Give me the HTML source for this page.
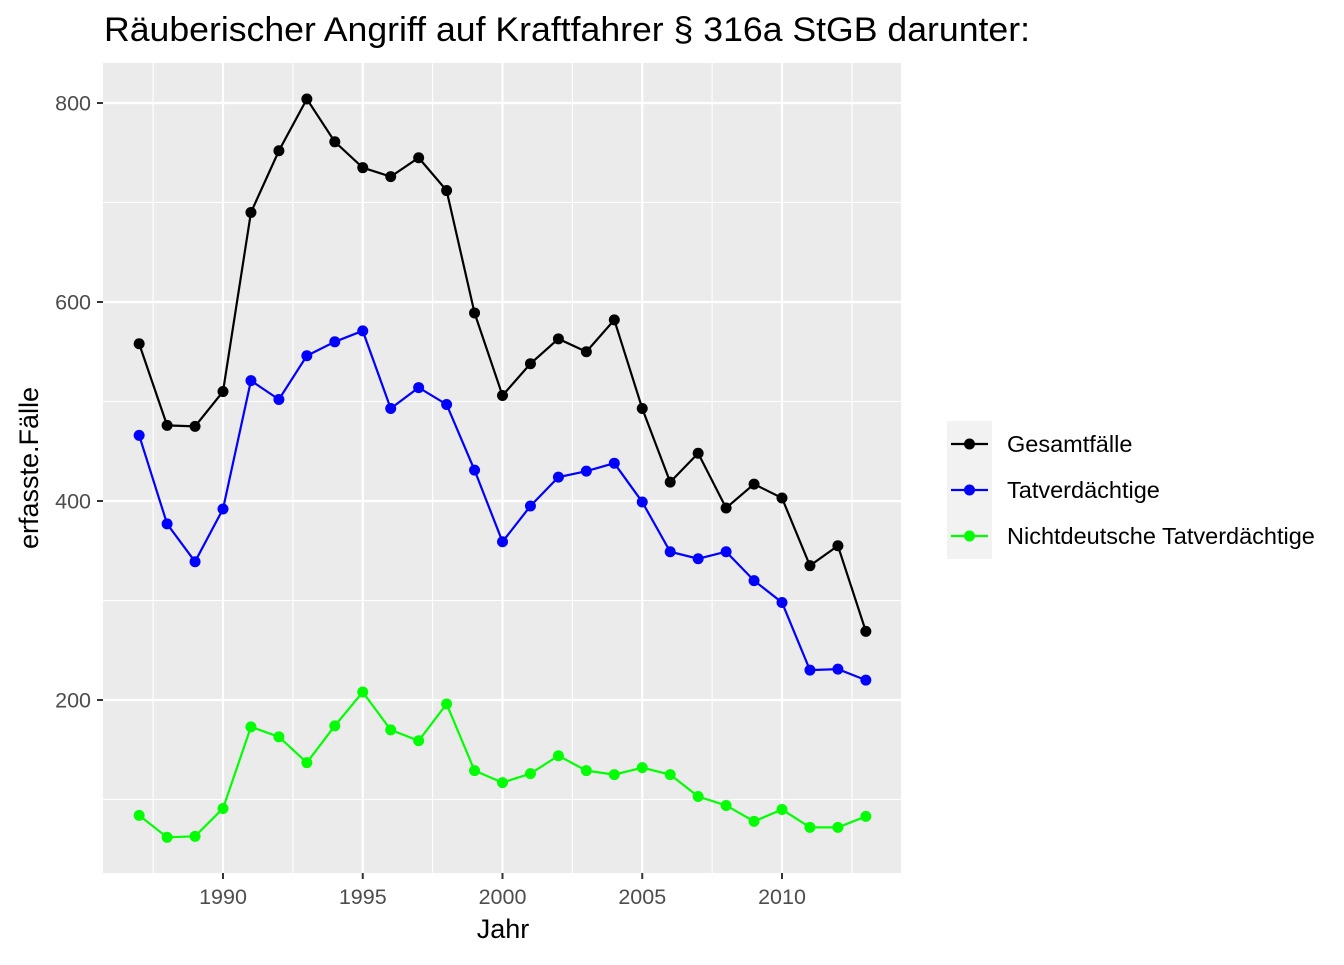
<!DOCTYPE html>
<html><head><meta charset="utf-8"><style>
body{margin:0;background:#fff;}
svg text{font-family:"Liberation Sans",sans-serif;}
</style></head><body>
<svg id="chart" width="1344" height="960" xmlns="http://www.w3.org/2000/svg">
<text x="104" y="41" font-size="34" textLength="926" lengthAdjust="spacingAndGlyphs" fill="#000">Räuberischer Angriff auf Kraftfahrer § 316a StGB darunter:</text>
<rect x="103" y="63" width="798" height="810" fill="#ebebeb"/>
<g id="grid"></g>
<g id="series"></g>
<g id="axes"></g>
<text x="503" y="938" font-size="27" text-anchor="middle" fill="#000">Jahr</text>
<text transform="translate(38,468) rotate(-90)" font-size="27" text-anchor="middle" fill="#000">erfasste.Fälle</text>
<g>
<rect x="947" y="421" width="45" height="138" fill="#f2f2f2"/>
<g id="legend"></g>
</g>
</svg>
<script>
const years=[1987,1988,1989,1990,1991,1992,1993,1994,1995,1996,1997,1998,1999,2000,2001,2002,2003,2004,2005,2006,2007,2008,2009,2010,2011,2012,2013];
const gesamt=[558,476,475,510,690,752,804,761,735,726,745,712,589,506,538,563,550,582,493,419,448,393,417,403,335,355,269];
const tatverd=[466,377,339,392,521,502,546,560,571,493,514,497,431,359,395,424,430,438,399,349,342,349,320,298,230,231,220];
const nichtdeutsch=[84,62,63,91,173,163,137,174,208,170,159,196,129,117,126,144,129,125,132,125,103,94,78,90,72,72,83];
const seriesNames=["Gesamtfälle","Tatverdächtige","Nichtdeutsche Tatverdächtige"];
const seriesColors=["#000000","#0000ff","#00ff00"];
const xTicks=[1990,1995,2000,2005,2010];
const yTicks=[200,400,600,800];
const NS="http://www.w3.org/2000/svg";
function xs(v){return 223+(v-1990)*27.95;}
function ys(v){return 899-v*0.995;}
function mk(tag,attrs,parent){const e=document.createElementNS(NS,tag);for(const k in attrs)e.setAttribute(k,attrs[k]);parent.appendChild(e);return e;}
const grid=document.getElementById('grid'),axes=document.getElementById('axes'),ser=document.getElementById('series'),leg=document.getElementById('legend');
[100,300,500,700].forEach(v=>{const l=mk('line',{x1:103,x2:901,y1:ys(v),y2:ys(v),stroke:'#fff','stroke-width':1.1},grid);

});
[1987.5,1992.5,1997.5,2002.5,2007.5,2012.5].forEach(v=>{const l=mk('line',{x1:xs(v),x2:xs(v),y1:63,y2:873,stroke:'#fff','stroke-width':1.1},grid);

});
yTicks.forEach(v=>{const l=mk('line',{x1:103,x2:901,y1:ys(v),y2:ys(v),stroke:'#fff','stroke-width':2.2},grid);


const t=mk('line',{x1:97,x2:103,y1:ys(v),y2:ys(v),stroke:'#333','stroke-width':2},axes);


const tx=mk('text',{x:91,y:ys(v)+7.5,'font-size':21.5,'text-anchor':'end',fill:'#4d4d4d'},axes);tx.textContent=v;

});
xTicks.forEach(v=>{const l=mk('line',{x1:xs(v),x2:xs(v),y1:63,y2:873,stroke:'#fff','stroke-width':2.2},grid);


const t=mk('line',{x1:xs(v),x2:xs(v),y1:873,y2:879,stroke:'#333','stroke-width':2},axes);


const tx=mk('text',{x:xs(v),y:904,'font-size':21.5,'text-anchor':'middle',fill:'#4d4d4d'},axes);tx.textContent=v;

});
[gesamt,tatverd,nichtdeutsch].forEach((arr,i)=>{
const g=mk('g',{},ser);


const p=mk('polyline',{points:arr.map((v,j)=>xs(years[j])+','+ys(v)).join(' '),fill:'none',stroke:seriesColors[i],'stroke-width':2.2},g);


arr.forEach((v,j)=>{const c=mk('circle',{cx:xs(years[j]),cy:ys(v),r:5.5,fill:seriesColors[i]},g);

});
const ly=444+i*46;
const ll=mk('line',{x1:951,x2:988,y1:ly,y2:ly,stroke:seriesColors[i],'stroke-width':2.2},leg);


const lc=mk('circle',{cx:969.5,cy:ly,r:5.5,fill:seriesColors[i]},leg);


const lt=mk('text',{x:1007,y:ly+8,'font-size':23.5,fill:'#000'},leg);lt.textContent=seriesNames[i];


});
</script>
</body></html>
